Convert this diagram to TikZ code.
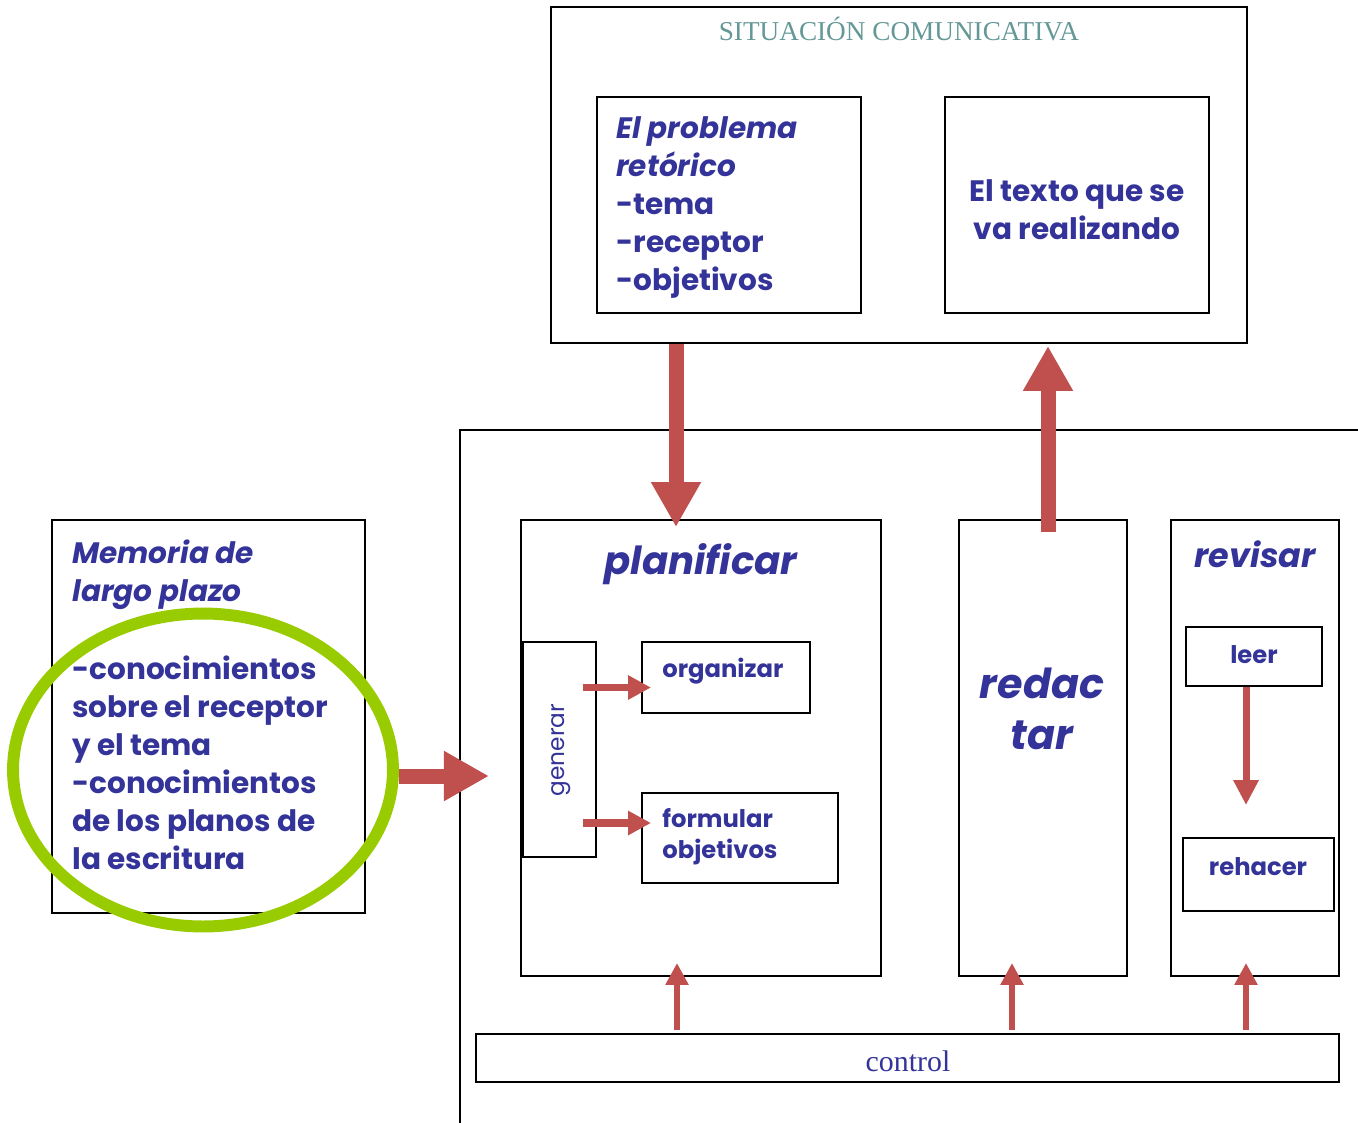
\documentclass[tikz,border=0pt]{standalone}
\usepackage{fontspec}
\setmainfont{Poppins}
\newfontfamily\serifttl{Liberation Serif}
\usepackage{tikz}
\usetikzlibrary{shapes.geometric, arrows.meta, fit, calc}
\definecolor{txtblue}{RGB}{51,51,153}
\definecolor{ttlteal}{RGB}{100,152,150}
\definecolor{arrowred}{RGB}{192,80,77}
\definecolor{ringgreen}{RGB}{153,204,0}
\tikzset{
  % boxes
  box/.style={rectangle, draw=black, line width=1.1pt, inner sep=0pt},
  ring/.style={ellipse, draw=ringgreen, line width=6.8pt, minimum width=7.6cm, minimum height=6.26cm},
  % texts
  lbl/.style={text=txtblue, font=\bfseries\fontsize{16.8}{21.7}\selectfont, align=left, inner sep=0pt},
  title/.style={text=txtblue, font=\bfseries\itshape\fontsize{#1}{29}\selectfont, align=center, inner sep=0pt},
  title/.default={22},
  small/.style={text=txtblue, font=\bfseries\fontsize{13.8}{18}\selectfont, align=left, inner sep=0pt},
  % arrows
  bigarrow/.style={color=arrowred, line width=0.3cm, -{Triangle[width=0.94cm,length=0.9cm]}},
  midarrow/.style={color=arrowred, line width=0.14cm, -{Triangle[width=0.48cm,length=0.5cm]}},
  genarrow/.style={color=arrowred, line width=0.15cm, -{Triangle[width=0.46cm,length=0.46cm]}},
  ctrlarrow/.style={color=arrowred, line width=0.12cm, -{Triangle[width=0.44cm,length=0.44cm]}},
}
\begin{document}
\begin{tikzpicture}[x=0.02cm, y=-0.02cm]
    \useasboundingbox (0,0) rectangle (1358,1122);
    \clip (0,0) rectangle (1358,1122);

    % Situacion comunicativa
    \node[box, fit={(551,7) (1247,343)}] (sit) {};
    \node[anchor=base, text=ttlteal, font=\serifttl\fontsize{15.5}{18}\selectfont] (sittxt) at (899,41) {SITUACIÓN COMUNICATIVA};
    \node[box, fit={(597,97) (861,313)}] (prob) {};
    \node[lbl, anchor=north west] (probtxt) at (616,116) {\itshape El problema\\\itshape retórico\\-tema\\-receptor\\-objetivos};
    \node[box, fit={(945,97) (1209,313)}] (texto) {};
    \node[lbl, anchor=north, align=center] (textotxt) at (1077,179) {El texto que se\\va realizando};

    % Memoria de largo plazo
    \node[box, fit={(52,520) (365,913)}] (mem) {};
    \node[lbl, anchor=north west] (memtxt) at (72,539) {\itshape Memoria de\\\itshape largo plazo};
    \node[ring] (circ) at (203,770) {};
    \node[lbl, anchor=north west] (conoc) at (72,655) {-conocimientos\\sobre el receptor\\y el tema\\-conocimientos\\de los planos de\\la escritura};

    % Proceso de escritura
    \node[box, fit={(460,430) (1430,1190)}] (proc) {};
    \node[box, fit={(521,520) (881,976)}] (plan) {};
    \node[title, anchor=base] (plantxt) at (701,574) {planificar};
    \node[box, fit={(523,642) (596,857)}] (gen) {};
    \node[rotate=90, text=txtblue, font=\fontsize{13.2}{15}\selectfont, inner sep=0pt] (gentxt) at (561,750) {generar};
    \node[box, fit={(642,642) (810,713)}] (org) {};
    \node[small, anchor=base west] (orgtxt) at (662,677) {organizar};
    \node[box, fit={(642,793) (838,883)}] (form) {};
    \node[small, anchor=north west] (formtxt) at (662,808) {formular\\objetivos};

    \node[box, fit={(959,520) (1127,976)}] (red) {};
    \node[title=23.5, anchor=north] (redtxt) at (1042,668) {redac\\tar};

    \node[box, fit={(1171,520) (1339,976)}] (rev) {};
    \node[title=19, anchor=base] (revtxt) at (1255,567) {revisar};
    \node[box, fit={(1186,627) (1322,686)}] (leer) {};
    \node[small, anchor=base] (leertxt) at (1254,663) {leer};
    \node[box, fit={(1183,838) (1334,911)}] (rehacer) {};
    \node[small, anchor=base] (rehacertxt) at (1258,875) {rehacer};

    \node[box, fit={(476,1034) (1339,1082)}] (ctrl) {};
    \node[anchor=base, text=txtblue, font=\serifttl\fontsize{17}{20}\selectfont] (ctrltxt) at (908,1071) {control};

    % Arrows
    \draw[bigarrow] (sit.south -| 676,0) -- ($(plan.north -| 676,0)+(0,8)$);
    \draw[bigarrow] ($(red.north -| 1048,0)+(0,13)$) -- ($(sit.south -| 1048,0)+(0,2)$);
    \coordinate (memend) at ($(circ.east)+(90,6)$);
    \draw[bigarrow] (circ.east |- memend) -- (memend);
    \draw[genarrow] ($(gen.east |- org.west)+(-14,10)$) -- ($(org.west)+(10,10)$);
    \draw[genarrow] ($(gen.east |- form.west)+(-14,-15)$) -- ($(form.west)+(10,-15)$);
    \draw[midarrow] (leer.south -| 1246,0) -- ($(rehacer.north -| 1246,0)+(0,-32)$);
    \foreach \bx/\xx in {plan/677, red/1012, rev/1246}
      \draw[ctrlarrow] ($(ctrl.north -| \xx,0)+(0,-3)$) -- ($(\bx.south -| \xx,0)+(0,-14)$);
\end{tikzpicture}
\end{document}
